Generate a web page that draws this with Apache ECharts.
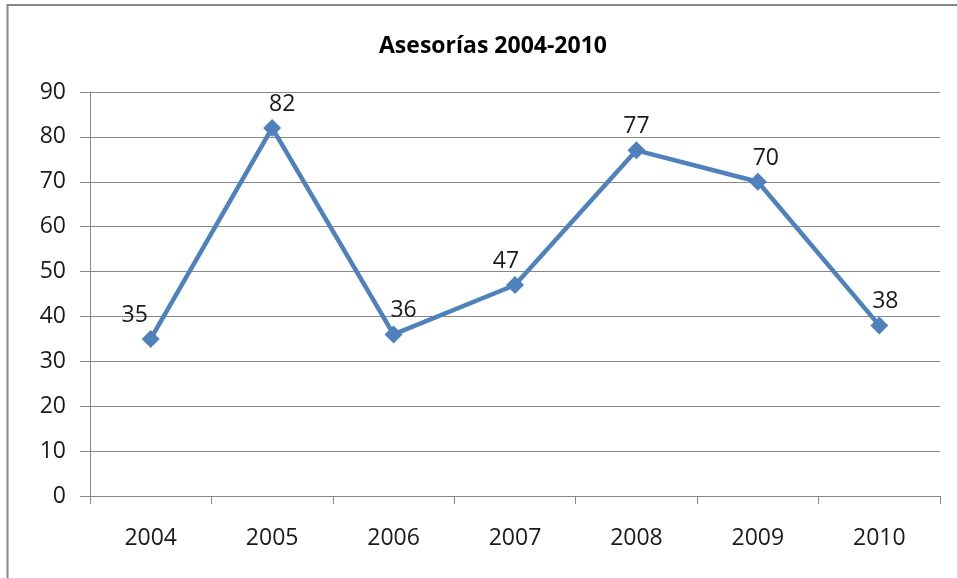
<!DOCTYPE html>
<html>
<head>
<meta charset="utf-8">
<script src="https://cdn.jsdelivr.net/npm/echarts@6/dist/echarts.min.js"></script>
<style>
  html, body { margin: 0; padding: 0; background: #fff; }
  #chart { width: 957px; height: 578px; }
</style>
</head>
<body>
<div id="chart"></div>
<script>
// datos del gráfico
var years = ['2004', '2005', '2006', '2007', '2008', '2009', '2010'];
var asesorias = [35, 82, 36, 47, 77, 70, 38];
var yTicks = [0, 10, 20, 30, 40, 50, 60, 70, 80, 90];

// desplazamiento de las etiquetas (como en el original)
var labelShift = [[-16, 0], [10, 0], [10, 0], [-9, 0], [0, 0], [8, 0], [6, 0]];

var myChart = echarts.init(document.getElementById('chart'));
var fontFam = '"Open Sans", "Liberation Sans", sans-serif';

var option = {
    animation: false,
    backgroundColor: '#fff',
    title: {
        text: 'Asesorías 2004-2010',
        left: 374,
        top: 30,
        textStyle: {
            fontFamily: fontFam,
            fontSize: 23,
            fontWeight: 'bold',
            color: '#000'
        }
    },
    graphic: [{
        type: 'rect',
        shape: { x: 7.5, y: 5, width: 1000, height: 1000 },
        style: { fill: 'none', stroke: '#888', lineWidth: 2 },
        silent: true
    }],
    grid: {
        left: 90,
        right: 17,
        top: 92,
        bottom: 82
    },
    xAxis: {
        type: 'category',
        data: years,
        boundaryGap: true,
        axisLine: { lineStyle: { color: '#888', width: 1 } },
        axisTick: { show: true, length: 8, lineStyle: { color: '#888' } },
        axisLabel: {
            margin: 31,
            fontFamily: fontFam,
            fontSize: 23,
            color: '#1a1a1a'
        }
    },
    yAxis: {
        type: 'value',
        min: yTicks[0],
        max: yTicks[yTicks.length - 1],
        interval: 10,
        axisLine: { show: true, lineStyle: { color: '#888' } },
        axisTick: { show: true, length: 10, lineStyle: { color: '#888' } },
        splitLine: { lineStyle: { color: '#888', width: 1 } },
        axisLabel: {
            margin: 24,
            fontFamily: fontFam,
            fontSize: 23,
            color: '#1a1a1a'
        }
    },
    series: [{
        name: 'Asesorías',
        type: 'line',
        data: asesorias.map(function (v, i) {
            return { value: v, label: { offset: labelShift[i] } };
        }),
        symbol: 'diamond',
        symbolSize: 18,
        lineStyle: { color: '#4F81BD', width: 4.5 },
        itemStyle: { color: '#4F81BD' },
        label: {
            show: true,
            position: 'top',
            distance: 3,
            fontFamily: fontFam,
            fontSize: 23,
            color: '#1a1a1a'
        }
    }]
};
myChart.setOption(option);
</script>
</body>
</html>
